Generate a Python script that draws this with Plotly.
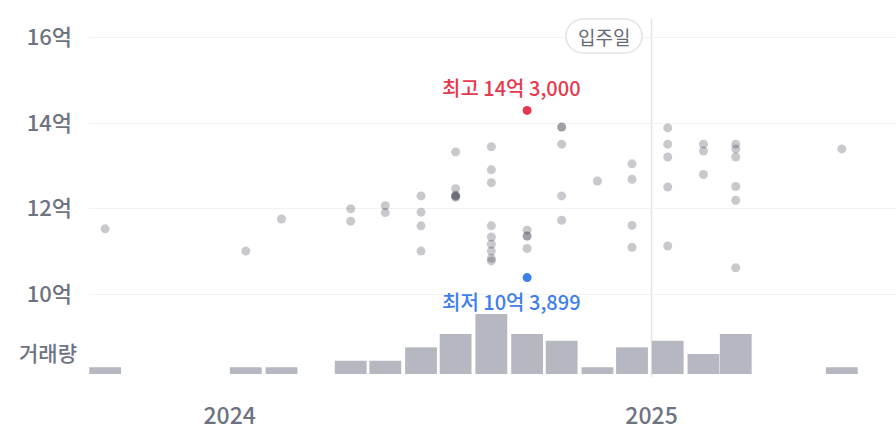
import plotly.graph_objects as go

# ---- data ----
months = ["2023-09-15", "2024-01-15", "2024-02-15", "2024-04-15", "2024-05-15", "2024-06-15",
          "2024-07-15", "2024-08-15", "2024-09-15", "2024-10-15", "2024-11-15", "2024-12-15",
          "2025-01-15", "2025-02-15", "2025-03-15", "2025-06-15"]
volumes = [1, 1, 1, 2, 2, 4, 6, 9, 6, 5, 1, 4, 5, 3, 6, 1]

trade_dates = (
    ["2023-09-15"] + ["2024-01-15"] + ["2024-02-15"] + ["2024-04-15"] * 2 + ["2024-05-15"] * 2
    + ["2024-06-15"] * 4 + ["2024-07-15"] * 6 + ["2024-08-15"] * 9 + ["2024-09-15"] * 6
    + ["2024-10-15"] * 5 + ["2024-11-15"] + ["2024-12-15"] * 4 + ["2025-01-15"] * 5
    + ["2025-02-15"] * 3 + ["2025-03-15"] * 6 + ["2025-06-15"]
)
trade_prices = [  # 만원
    115300,
    110100,
    117600,
    120000, 117100,
    120700, 119100,
    123000, 119200, 116000, 110100,
    133300, 124700, 123200, 123000, 122900, 122700,
    134500, 129100, 126100, 116000, 113400, 111700, 110100, 108400, 107800,
    143000, 115000, 113600, 113600, 110700, 103899,
    139100, 139100, 135100, 123000, 117300,
    126500,
    130500, 126900, 116100, 111000,
    138900, 135100, 132100, 125100, 111300,
    135100, 133500, 128000,
    135100, 134000, 132100, 125200, 122000, 106200,
    134000,
]

y_tickvals = [100000, 120000, 140000, 160000]
y_ticktext = ["10억", "12억", "14억", "16억"]
x_tickvals = ["2024-01-01", "2025-01-01"]
x_ticktext = ["2024", "2025"]
movein_date = "2025-01-01"
movein_label = "입주일"
volume_label = "거래량"


def fmt_price(v):
    eok, man = divmod(int(round(v)), 10000)
    return f"{eok}억 {man:,}" if man else f"{eok}억"


imax = max(range(len(trade_prices)), key=lambda i: trade_prices[i])
imin = min(range(len(trade_prices)), key=lambda i: trade_prices[i])
others = [i for i in range(len(trade_prices)) if i not in (imax, imin)]

FONT = "Noto Sans CJK KR"
GRAY_TXT = "#6e7381"

# layout geometry (pixels)
W, H = 896, 440
L, R, T, B = 89, 0, 18, 62
PW, PH = W - L - R, H - T - B

fig = go.Figure()
fig.add_trace(go.Bar(
    x=months, y=volumes, yaxis="y2",
    width=27.6 * 86400000,
    marker=dict(color="#b6b8c1", line=dict(width=0)),
    hoverinfo="skip", showlegend=False,
))
fig.add_trace(go.Scatter(
    x=[trade_dates[i] for i in others], y=[trade_prices[i] for i in others],
    mode="markers",
    marker=dict(size=9, color="rgba(50,56,72,0.27)", line=dict(width=0)),
    showlegend=False,
))
fig.add_trace(go.Scatter(
    x=[trade_dates[imax]], y=[trade_prices[imax]], mode="markers",
    marker=dict(size=9, color="#e5394f"), showlegend=False,
))
fig.add_trace(go.Scatter(
    x=[trade_dates[imin]], y=[trade_prices[imin]], mode="markers",
    marker=dict(size=9, color="#3d7ee8"), showlegend=False,
))


def P(px, py):
    return f"{(px - L) / PW:.5f},{(H - B - py) / PH:.5f}"


x0, x1, y0, y1, r = 566, 642, 19, 53, 17
k = 0.5523 * r
pill = (f"M{P(x0 + r, y0)} L{P(x1 - r, y0)} "
        f"C{P(x1 - r + k, y0)} {P(x1, y0 + r - k)} {P(x1, y0 + r)} "
        f"C{P(x1, y0 + r + k)} {P(x1 - r + k, y1)} {P(x1 - r, y1)} "
        f"L{P(x0 + r, y1)} "
        f"C{P(x0 + r - k, y1)} {P(x0, y1 - r + k)} {P(x0, y1 - r)} "
        f"C{P(x0, y1 - r - k)} {P(x0 + r - k, y0)} {P(x0 + r, y0)} Z")

fig.update_layout(
    width=W, height=H,
    margin=dict(l=L, r=R, t=T, b=B, autoexpand=False),
    paper_bgcolor="white", plot_bgcolor="white",
    font=dict(family=FONT, color=GRAY_TXT),
    showlegend=False,
    xaxis=dict(
        type="date", range=["2023-09-01", "2025-08-01"],
        tickvals=x_tickvals, ticktext=x_ticktext,
        showgrid=False, zeroline=False, showline=False, ticks="",
        ticklabelstandoff=22,
        tickfont=dict(size=23, color=GRAY_TXT, family=FONT, weight=500),
    ),
    yaxis=dict(
        range=[80420, 164610],
        tickvals=y_tickvals, ticktext=y_ticktext,
        showgrid=True, gridcolor="#f2f2f2", gridwidth=1,
        zeroline=False, showline=False, ticks="",
        ticklabelstandoff=16,
        tickfont=dict(size=22, color=GRAY_TXT, family=FONT, weight=500),
    ),
    yaxis2=dict(overlaying="y", range=[-0.6, 53.4], visible=False),
    shapes=[
        dict(type="line", xref="x", yref="paper", x0=movein_date, x1=movein_date,
             y0=0.003, y1=1, line=dict(color="#e6e6e6", width=1.5), layer="below"),
        dict(type="path", xref="paper", yref="paper", path=pill,
             line=dict(color="#e3e3e3", width=1.5), fillcolor="white", layer="above"),
    ],
    annotations=[
        dict(x=trade_dates[imax], y=trade_prices[imax], xref="x", yref="y",
             text=f"최고 {fmt_price(trade_prices[imax])}", showarrow=False,
             xshift=-16, yshift=23,
             font=dict(size=20, color="#e5394f", family=FONT, weight=500)),
        dict(x=trade_dates[imin], y=trade_prices[imin], xref="x", yref="y",
             text=f"최저 {fmt_price(trade_prices[imin])}", showarrow=False,
             xshift=-16, yshift=-24,
             font=dict(size=20, color="#3d7ee8", family=FONT, weight=500)),
        dict(x=(48 - L) / PW, y=(H - B - 352) / PH, xref="paper", yref="paper",
             text=volume_label, showarrow=False, xanchor="center", yanchor="middle",
             font=dict(size=21, color=GRAY_TXT, family=FONT, weight=500)),
        dict(x=(604 - L) / PW, y=(H - B - 36) / PH, xref="paper", yref="paper",
             text=movein_label, showarrow=False, xanchor="center", yanchor="middle",
             font=dict(size=19, color="#666a73", family=FONT)),
    ],
)

fig.write_html(
    "out.html",
    config={"displayModeBar": False},
    post_script="document.body.style.margin='0';document.body.style.overflow='hidden';",
)
